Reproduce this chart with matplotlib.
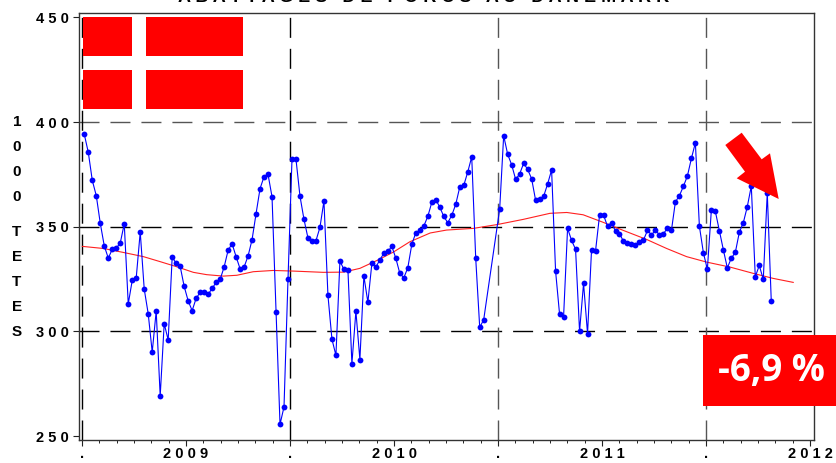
import matplotlib
matplotlib.use("Agg")
import matplotlib.pyplot as plt
from matplotlib.patches import Polygon, Rectangle
from matplotlib.transforms import Affine2D
import numpy as np

W, H = 836, 463
nan = float("nan")

# weekly slaughter values (3 weeks are missing in autumn 2010)
weekly = [394.1, 385.5, 372.1, 364.8, 351.6, 340.8, 335.0, 339.2, 339.8, 342.2,
          351.4, 313.1, 324.4, 325.6, 347.5, 320.2, 308.4, 290.1, 309.7, 269.1,
          303.7, 295.9, 335.5, 332.5, 331.1, 321.5, 314.6, 309.9, 315.8, 318.6,
          318.6, 317.7, 320.5, 323.4, 324.8, 330.7, 338.7, 341.9, 335.7, 329.9,
          330.7, 336.0, 343.8, 356.2, 368.2, 373.9, 375.0, 364.3, 309.4, 255.6,
          263.9, 325.0, 382.3, 382.2, 364.6, 353.5, 344.6, 343.3, 343.3, 349.7,
          362.3, 317.2, 296.3, 288.5, 333.6, 329.6, 329.5, 284.6, 309.6, 286.5,
          326.4, 313.9, 332.5, 330.7, 334.2, 337.3, 338.2, 340.6, 334.9, 327.7,
          325.6, 330.4, 341.6, 347.1, 348.2, 350.3, 354.9, 361.6, 362.9, 359.4,
          354.9, 351.9, 355.4, 360.7, 368.9, 369.7, 376.1, 383.4, 334.9, 301.9,
          305.6, nan, nan, nan, 358.4, 393.5, 384.6, 379.6, 372.6, 375.2,
          380.3, 377.4, 372.9, 362.6, 363.2, 364.5, 370.4, 377.1, 328.7, 308.1,
          307.0, 349.2, 343.5, 339.2, 300.0, 322.9, 298.9, 339.0, 338.4, 355.4,
          355.6, 350.2, 351.9, 347.8, 346.7, 343.0, 342.2, 341.9, 341.1, 342.7,
          343.6, 348.2, 346.2, 348.2, 346.2, 346.7, 349.2, 348.2, 361.9, 364.8,
          369.3, 374.2, 382.6, 390.1, 350.3, 337.6, 329.6, 358.0, 357.3, 348.1,
          339.0, 330.3, 335.0, 337.7, 347.3, 351.9, 359.6, 369.4, 326.1, 331.5,
          324.8, 366.2, 314.5]

# red trend line
trend_x = [-0.5, 4.8, 9.8, 14.8, 19, 23.1, 27.3, 30.6, 34.8, 38.2, 42.3, 47.3, 52.4,
           59.8, 64.9, 69, 73.2, 77.4, 81.5, 86.6, 90.7, 97.4, 103.3, 109.9, 116.6,
           120.8, 124.9, 129.9, 135, 140.8, 145.8, 150.8, 155.8, 161.7, 167.5, 172.5, 177.5]
trend_y = [340.6, 339.6, 337.7, 335.7, 333.3, 330.9, 328.2, 327.1, 326.4, 326.8, 328.5, 329.1, 328.8,
           328.2, 328.3, 330.1, 333.8, 337.9, 342.8, 347.0, 348.4, 349.2, 351.0, 353.5, 356.4,
           356.8, 355.7, 352.1, 348.2, 343.9, 339.6, 335.7, 333.1, 330.7, 327.7, 325.3, 323.4]

y_ticks = [250, 300, 350, 400, 450]
y_labels = ["2 5 0", "3 0 0", "3 5 0", "4 0 0", "4 5 0"]
x_labels = [".", "2 0 0 9", ".", "2 0 1 0", ".", "2 0 1 1", ".", "2 0 1 2"]
side_chars = ["1", "0", "0", "0", "T", "E", "T", "E", "S"]
side_rows = [122, 147, 172, 197, 232, 257, 282, 307, 332]
title = "A B A T T A G E S   D E   P O R C S   A U   D A N E M A R K"

plt.rcParams["font.family"] = "Liberation Sans"
fig = plt.figure(figsize=(W / 100, H / 100), dpi=100)
ax = fig.add_axes([79 / W, 1 - 440 / H, 735 / W, 427 / H])

# half year marks start at the left dashed line
half_year = 26.04
x_start = -0.58
major = [x_start + half_year * i for i in range(8)]
minor = [x_start + half_year / 6 * i for i in range(43) if i % 6 != 0]

dash = (0, (14.4, 7.9))
for v, c in zip([300, 350, 400], ["black", "black", "#555555"]):
    ax.axhline(v, color=c, lw=1.0, ls=dash, zorder=1)
for m, c in zip(major[::2], ["black", "black", "#555555", "#555555"]):
    ax.axvline(m, color=c, lw=1.0, ls=dash, zorder=1)

ax.plot(trend_x, trend_y, color="#FF2020", lw=0.8, zorder=2)
weeks = np.arange(len(weekly))
vals = np.array(weekly)
ok = ~np.isnan(vals)
ax.plot(weeks[ok], vals[ok], color="#0000FF", lw=0.8, marker="o", ms=4.2, mew=0, zorder=3)

ax.set_yticks(y_ticks)
ax.set_yticklabels(y_labels, fontweight="bold", fontsize=10.5)
ax.set_xticks(major)
ax.set_xticklabels(x_labels, fontweight="bold", fontsize=10.5)
ax.set_xticks(minor, minor=True)
ax.set_xlim(-1.33, 182.7)
ax.set_ylim(248.1, 452.1)
ax.tick_params(axis="y", which="major", length=4, width=0.8, pad=3.5, color="#222222")
ax.tick_params(axis="x", which="major", length=4, width=0.8, pad=1, color="#222222")
ax.tick_params(axis="x", which="minor", length=2.5, width=0.7, color="#222222")
for s in ax.spines.values():
    s.set_linewidth(1.0)
    s.set_color("#333333")

# overlays are placed in image pixels, y going down
px = Affine2D().scale(1 / W, -1 / H).translate(0, 1) + fig.transFigure

def box(x0, y0, x1, y1, z=5):
    fig.add_artist(Rectangle((x0, y0), x1 - x0, y1 - y0, transform=px, color="#FF0000", lw=0, zorder=z))

box(83, 17, 131.5, 55.7)
box(146, 17, 243, 55.7)
box(83, 69.7, 131.5, 109)
box(146, 69.7, 243, 109)
box(703, 335, 836, 405.7)

arrow = [(778.7, 199), (770, 153.3), (761.7, 159.3), (741.7, 132.7),
         (725.3, 145), (745, 171.7), (736.7, 178.3)]
fig.add_artist(Polygon(arrow, closed=True, transform=px, color="#FF0000", lw=0, zorder=5))

fig.text(771, 371, "-6,9 %", transform=px, family="Open Sans", fontweight="bold", fontsize=26.5,
         color="white", ha="center", va="center", zorder=6)
fig.text(424, -3, title, transform=px, fontweight="bold", fontsize=13, ha="center", va="center")
for ch, row in zip(side_chars, side_rows):
    fig.text(17, row, ch, transform=px, fontweight="bold", fontsize=11, ha="center", va="center")

fig.savefig("out.png", dpi=100)
